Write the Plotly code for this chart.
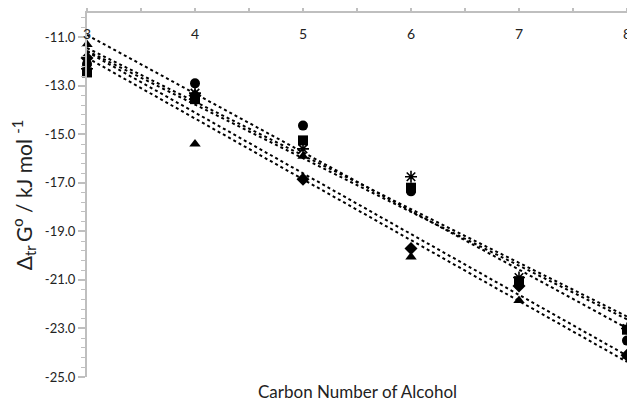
import numpy as np
import plotly.graph_objects as go

carbon = [3, 4, 5, 6, 7, 8]
circle_vals = [-12.10, -12.90, -14.64, -17.35, -21.20, -23.50]
square_vals = [-12.45, -13.55, -15.25, -17.20, -21.05, -23.05]
triangle_vals = [-11.30, -15.40, -15.90, -20.05, -21.85, -24.15]
diamond_vals = [-11.85, -13.40, -16.85, -19.70, -21.25, -24.10]
asterisk_vals = [-12.30, -13.30, -15.60, -16.75, -20.90, -23.00]

series = [
    ("circle", circle_vals, "circle"),
    ("square", square_vals, "square"),
    ("triangle", triangle_vals, "triangle-up"),
    ("diamond", diamond_vals, "diamond"),
    ("asterisk", asterisk_vals, "asterisk-open"),
]

y_ticks = [-11.0, -13.0, -15.0, -17.0, -19.0, -21.0, -23.0, -25.0]
x_minor_ticks = [3, 3.5, 4, 4.5, 5, 5.5, 6, 6.5, 7, 7.5, 8]
x_label_ticks = [3, 4, 5, 6, 7, 8]

fig = go.Figure()
xs = np.array(carbon, dtype=float)
for name, vals, sym in series:
    m, b = np.polyfit(xs, np.array(vals), 1)
    xl = np.array([3.0, 8.0])
    fig.add_trace(go.Scatter(x=xl, y=m * xl + b, mode="lines",
                             line=dict(color="black", width=2, dash="dot"),
                             showlegend=False, hoverinfo="skip"))
for name, vals, sym in series:
    if sym == "asterisk-open":
        marker = dict(symbol=sym, size=10, color="black", line=dict(color="black", width=1.6))
    else:
        marker = dict(symbol=sym, size=10, color="black", line=dict(width=0))
    fig.add_trace(go.Scatter(x=carbon, y=vals, mode="markers", name=name,
                             marker=marker, showlegend=False, cliponaxis=False))

# invisible trace to create the label axis
fig.add_trace(go.Scatter(x=[3, 8], y=[-25, -25], xaxis="x2", mode="markers",
                         marker=dict(opacity=0), showlegend=False, hoverinfo="skip"))

font_family = "Lato, 'Open Sans', sans-serif"
fig.update_layout(
    width=627, height=395,
    margin=dict(l=79, r=8, t=5, b=26),
    paper_bgcolor="white", plot_bgcolor="white",
    font=dict(family=font_family, color="#222"),
    xaxis=dict(range=[3, 8], side="top", showgrid=False, zeroline=False,
               showline=True, linecolor="#BFBFBF", linewidth=2,
               ticks="outside", ticklen=6, tickcolor="#BFBFBF", tickwidth=1.5,
               tickvals=x_minor_ticks, showticklabels=False, automargin=False),
    xaxis2=dict(range=[3, 8], side="top", anchor="free", position=0.92,
                overlaying="x", showgrid=False, zeroline=False, showline=False,
                ticks="", tickvals=x_label_ticks,
                ticktext=[str(v) for v in x_label_ticks],
                tickfont=dict(size=14, color="#222"), automargin=False),
    yaxis=dict(range=[-25, -10], showgrid=False, zeroline=False,
               showline=True, linecolor="#BFBFBF", linewidth=2,
               ticks="outside", ticklen=7, tickcolor="#BFBFBF", tickwidth=1.5,
               tickvals=y_ticks, ticktext=[f"{v:.1f}" for v in y_ticks],
               tickfont=dict(size=13, color="#222"), automargin=False,
               minor=dict(ticks="outside", ticklen=4, tickcolor="#BFBFBF",
                          dtick=0.4, tick0=-25, tickwidth=1.2),
               title=dict(text="Δ<sub>tr </sub>G<sup>o</sup> / kJ mol <sup>-1</sup>",
                          font=dict(size=21, color="#222"))),
)
fig.add_annotation(text="Carbon Number of Alcohol", x=0.5, xref="paper",
                   y=-0.005, yref="paper", yanchor="top", showarrow=False,
                   font=dict(size=17, color="#222"))

fig.write_html("out.html")
